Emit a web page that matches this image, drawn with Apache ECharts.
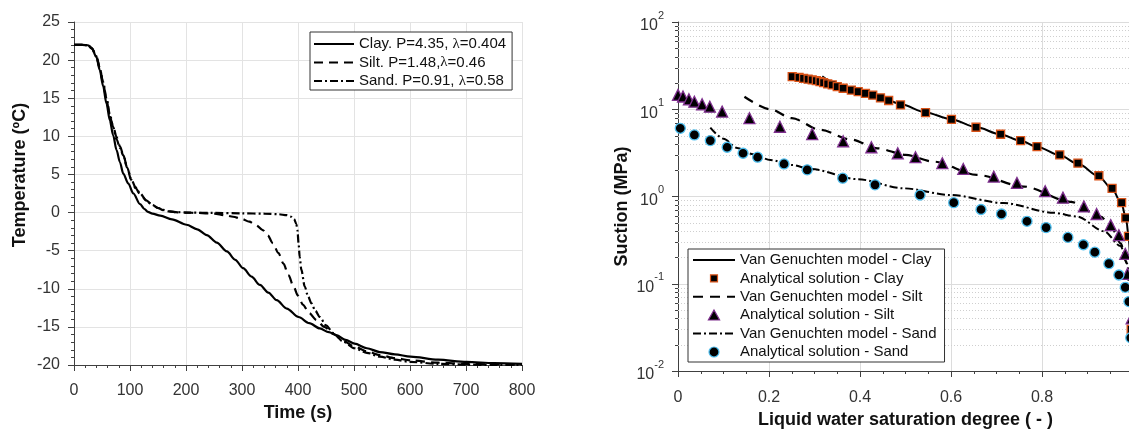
<!DOCTYPE html>
<html><head><meta charset="utf-8">
<script src="https://cdn.jsdelivr.net/npm/echarts@6/dist/echarts.min.js"></script>
<style>html,body{margin:0;padding:0;background:#fff}#c{width:1129px;height:430px}</style>
</head><body><div id="c"></div>
<script>
// ---------- Left panel: temperature vs time ----------
const timeClay = [0, 15, 25, 32, 40, 46, 52, 58, 64, 70, 76, 82, 88, 97, 106, 118, 126, 132, 140, 154, 175, 201, 220, 237, 255, 273, 288, 302, 317, 332, 347, 362, 380, 401, 420, 439, 455, 469, 485, 501, 523, 546, 573, 601, 650, 701, 750, 800];
const tempClay = [22, 22, 21.95, 21.5, 20.4, 18.7, 16.6, 14.3, 12.1, 10.1, 8.2, 6.6, 5.1, 3.8, 2.5, 1.1, 0.45, 0.1, -0.15, -0.4, -0.9, -1.6, -2.2, -2.95, -3.95, -5.1, -6.2, -7.3, -8.4, -9.5, -10.5, -11.5, -12.6, -13.7, -14.5, -15.2, -15.7, -16.1, -16.7, -17.2, -17.8, -18.3, -18.6, -18.9, -19.3, -19.6, -19.75, -19.85];

const timeSilt = [0, 15, 25, 32, 40, 46, 52, 58, 64, 70, 76, 82, 88, 95, 102, 110, 118, 129, 140, 150, 159, 170, 185, 200, 220, 250, 270, 284, 300, 313, 325, 337, 346, 355, 365, 374, 383, 392, 400, 409, 420, 433, 447, 463, 480, 501, 523, 546, 573, 601, 650, 701, 750, 800];
const tempSilt = [22, 22, 21.95, 21.55, 20.5, 19.0, 17.0, 14.8, 12.6, 11.3, 9.9, 8.7, 7.6, 5.9, 4.3, 3.2, 2.4, 1.6, 0.95, 0.6, 0.33, 0.15, 0.03, 0, -0.05, -0.15, -0.35, -0.55, -0.85, -1.2, -1.65, -2.3, -3.0, -4.0, -5.3, -6.7, -8.2, -9.7, -10.9, -12.1, -13.2, -14.1, -15.0, -15.9, -16.8, -17.6, -18.2, -18.7, -19.1, -19.4, -19.7, -19.85, -19.93, -19.97];

const timeSand = [0, 15, 25, 32, 40, 46, 52, 58, 64, 70, 76, 82, 88, 95, 102, 110, 118, 129, 140, 150, 159, 170, 185, 200, 250, 300, 340, 365, 380, 388, 393, 397, 399, 401, 403, 406, 412, 418, 424, 431, 439, 450, 463, 480, 501, 523, 546, 573, 601, 650, 701, 750, 800];
const tempSand = [22, 22, 21.95, 21.55, 20.5, 19.0, 17.1, 15.0, 12.9, 11.2, 9.6, 8.5, 7.5, 5.9, 4.4, 3.3, 2.5, 1.6, 1.0, 0.6, 0.35, 0.15, 0.05, 0, -0.05, -0.1, -0.15, -0.22, -0.35, -0.55, -0.85, -1.5, -2.3, -4.0, -5.8, -7.5, -9.7, -11.0, -11.9, -12.9, -13.7, -14.8, -15.8, -16.9, -17.8, -18.4, -18.9, -19.3, -19.6, -19.85, -19.95, -20, -20];

const leftNames = ['Clay. P=4.35, λ=0.404', 'Silt. P=1.48,λ=0.46', 'Sand. P=0.91, λ=0.58'];

// ---------- Right panel: suction vs saturation ----------
const satClayModel = [0.317, 0.34, 0.36, 0.39, 0.42, 0.45, 0.49, 0.544, 0.6, 0.655, 0.709, 0.753, 0.79, 0.84, 0.88, 0.925, 0.955, 0.975, 0.985, 0.991, 0.995, 0.998, 1.0];
const suctionClayModel = [23.8, 20.5, 18.5, 16.5, 14.9, 13.4, 11.4, 9.2, 7.7, 6.25, 5.15, 4.35, 3.7, 2.95, 2.35, 1.7, 1.2, 0.82, 0.55, 0.32, 0.15, 0.05, 0.01];
const satClayAnalytic = [0.251, 0.266, 0.276, 0.286, 0.295, 0.304, 0.312, 0.320, 0.329, 0.339, 0.350, 0.363, 0.381, 0.396, 0.412, 0.428, 0.445, 0.463, 0.489, 0.544, 0.601, 0.655, 0.709, 0.753, 0.789, 0.839, 0.879, 0.925, 0.954, 0.975, 0.984, 0.990, 0.996];
const suctionClayAnalytic = [23.6, 23.2, 22.6, 22.1, 21.7, 21.3, 20.7, 20.2, 19.5, 19.0, 18.2, 17.4, 16.6, 15.9, 15.2, 14.5, 13.5, 12.6, 11.2, 9.14, 7.67, 6.22, 5.17, 4.37, 3.73, 3.0, 2.41, 1.73, 1.24, 0.85, 0.57, 0.35, 0.03];

const satSiltModel = [0.146, 0.203, 0.25, 0.313, 0.38, 0.438, 0.5, 0.562, 0.657, 0.76, 0.863, 0.929, 0.955, 0.973, 0.985, 0.992, 0.996, 0.999, 1.0];
const suctionSiltModel = [13.9, 10.0, 7.9, 5.8, 4.5, 3.57, 3.0, 2.51, 1.77, 1.30, 0.87, 0.59, 0.42, 0.29, 0.18, 0.1, 0.05, 0.02, 0.01];
const satSiltAnalytic = [0.0, 0.011, 0.024, 0.036, 0.053, 0.070, 0.097, 0.157, 0.224, 0.295, 0.363, 0.425, 0.483, 0.522, 0.581, 0.627, 0.694, 0.745, 0.807, 0.846, 0.892, 0.920, 0.951, 0.969, 0.983, 0.988, 0.997];
const suctionSiltAnalytic = [14.6, 14.0, 13.0, 12.2, 11.4, 10.7, 9.4, 7.9, 6.3, 5.2, 4.3, 3.67, 3.13, 2.82, 2.41, 2.07, 1.69, 1.43, 1.15, 0.97, 0.77, 0.63, 0.47, 0.36, 0.22, 0.13, 0.04];

const satSandModel = [0.071, 0.1, 0.13, 0.165, 0.203, 0.25, 0.291, 0.394, 0.496, 0.599, 0.716, 0.826, 0.877, 0.936, 0.973, 0.987, 0.994, 0.998, 1.0];
const suctionSandModel = [6.15, 4.6, 3.6, 3.05, 2.62, 2.3, 2.07, 1.58, 1.24, 1.04, 0.84, 0.65, 0.59, 0.40, 0.27, 0.17, 0.09, 0.03, 0.01];
const satSandAnalytic = [0.005, 0.036, 0.071, 0.108, 0.143, 0.175, 0.233, 0.284, 0.362, 0.433, 0.532, 0.606, 0.666, 0.711, 0.767, 0.809, 0.857, 0.891, 0.916, 0.947, 0.969, 0.983, 0.991, 0.995];
const suctionSandAnalytic = [6.05, 5.08, 4.37, 3.67, 3.13, 2.82, 2.36, 2.02, 1.62, 1.36, 1.04, 0.85, 0.71, 0.63, 0.52, 0.44, 0.34, 0.28, 0.23, 0.17, 0.126, 0.091, 0.0625, 0.024];

const rightNames = ['Van Genuchten model - Clay', 'Analytical solution - Clay', 'Van Genuchten model - Silt', 'Analytical solution - Silt', 'Van Genuchten model - Sand', 'Analytical solution - Sand'];

// log-axis minor tick values (2..9 x 10^k)
const suctionMinorTicks = [0.02, 0.03, 0.04, 0.05, 0.06, 0.07, 0.08, 0.09, 0.2, 0.3, 0.4, 0.5, 0.6, 0.7, 0.8, 0.9, 2, 3, 4, 5, 6, 7, 8, 9, 20, 30, 40, 50, 60, 70, 80, 90];

// ---------- chart ----------
const pairs = (xs, ys) => xs.map((x, i) => [x, ys[i]]);
const FONT = 'Liberation Sans, Arial, sans-serif';
const AX = '#404040';
const LBL = '#333';
const CLAY_EDGE = '#d95319', SILT_EDGE = '#7e2f8e', SAND_EDGE = '#4dbeee';

// legend marker icons (padded bounding box keeps the marker small)
const ICON_SQUARE = 'path://M0,0M12,12M2.5,2.5L9.5,2.5L9.5,9.5L2.5,9.5Z';
const ICON_TRIANGLE = 'path://M0,0M12,12M6,0.8L11.6,10.8L0.4,10.8Z';
const ICON_CIRCLE = 'path://M0,0M12,12M1,6A5,5,0,1,1,11,6A5,5,0,1,1,1,6Z';

function axisCommon() {
  return {
    axisLine: { show: true, onZero: false, lineStyle: { color: AX, width: 1 } },
    axisTick: { show: true, inside: false, length: 6, lineStyle: { color: AX } },
    minorTick: { show: true, length: 3, lineStyle: { color: AX } },
    axisLabel: { fontSize: 16, color: LBL, fontFamily: FONT },
    nameTextStyle: { fontSize: 18, fontWeight: 'bold', color: '#111', fontFamily: FONT },
    nameLocation: 'middle'
  };
}

const chart = echarts.init(document.getElementById('c'));

const xTime = Object.assign(axisCommon(), {
  gridIndex: 0, type: 'value', min: 0, max: 800, interval: 100,
  name: 'Time (s)', nameGap: 39,
  splitLine: { show: true, lineStyle: { color: '#e3e3e3' } }
});
xTime.minorTick.splitNumber = 5;
xTime.axisLabel.margin = 18;

const yTemp = Object.assign(axisCommon(), {
  gridIndex: 0, type: 'value', min: -20, max: 25, interval: 5,
  name: 'Temperature (ºC)', nameGap: 45,
  splitLine: { show: true, lineStyle: { color: '#e3e3e3' } }
});
yTemp.minorTick.splitNumber = 5;
yTemp.axisLabel.margin = 14;
yTemp.nameTextStyle.padding = [0, 0, 0, 37];

const xSat = Object.assign(axisCommon(), {
  gridIndex: 1, type: 'value', min: 0, max: 1, interval: 0.2,
  name: 'Liquid water saturation degree ( - )', nameGap: 40,
  splitLine: { show: true, lineStyle: { color: '#dcdcdc' } }
});
xSat.minorTick.splitNumber = 4;
xSat.axisLabel.margin = 19;

const ySuc = Object.assign(axisCommon(), {
  gridIndex: 1, type: 'log', logBase: 10, min: 0.01, max: 100, splitNumber: 4,
  name: 'Suction (MPa)', nameGap: 47,
  splitLine: { show: true, lineStyle: { color: '#dcdcdc' } }
});
ySuc.minorTick = { show: false };
ySuc.axisLabel.margin = 14;
ySuc.axisLabel.formatter = v => '{b|10}{s|' + Math.round(Math.log10(v)) + '}';
ySuc.axisLabel.rich = {
  b: { fontSize: 16, color: LBL, fontFamily: FONT, lineHeight: 24, verticalAlign: 'bottom' },
  s: { fontSize: 11, color: LBL, fontFamily: FONT, lineHeight: 11, verticalAlign: 'top' }
};
ySuc.nameTextStyle.padding = [0, 20, 0, 0];

const lineBase = { type: 'line', symbol: 'none', smooth: 0.3, smoothMonotone: 'x', animation: false, z: 3 };

const option = {
  animation: false,
  backgroundColor: '#fff',
  textStyle: { fontFamily: FONT },
  grid: [
    { left: 74, top: 22, width: 448, height: 343, containLabel: false, outerBoundsMode: 'none' },
    { left: 678, top: 22, width: 455, height: 349, containLabel: false, outerBoundsMode: 'none' }
  ],
  xAxis: [xTime, xSat],
  yAxis: [yTemp, ySuc],
  legend: [
    {
      orient: 'vertical', left: 310, top: 32, padding: [4, 6, 1, 3],
      itemWidth: 40, itemHeight: 14, itemGap: 2.5,
      backgroundColor: '#fff', borderColor: '#333', borderWidth: 1,
      textStyle: { fontSize: 15, color: '#111', fontFamily: FONT, lineHeight: 16,
        rich: { g: { fontSize: 15, color: '#111', fontFamily: 'Liberation Serif, serif', lineHeight: 16 } } },
      formatter: n => n.replace('λ', '{g|λ}'),
      selectedMode: false,
      data: leftNames.map(n => ({ name: n, itemStyle: { opacity: 0 } }))
    },
    {
      orient: 'vertical', left: 688, top: 249, padding: [3, 8, 2, 4],
      itemWidth: 42, itemHeight: 12, itemGap: 2.4,
      symbolKeepAspect: true,
      backgroundColor: '#fff', borderColor: '#333', borderWidth: 1,
      textStyle: { fontSize: 15, color: '#111', fontFamily: FONT, lineHeight: 16 },
      selectedMode: false,
      data: [
        { name: rightNames[0], itemStyle: { opacity: 0 } },
        { name: rightNames[1], icon: ICON_SQUARE, itemStyle: { color: '#000', borderColor: CLAY_EDGE, borderWidth: 1.2, opacity: 1 } },
        { name: rightNames[2], itemStyle: { opacity: 0 } },
        { name: rightNames[3], icon: ICON_TRIANGLE, itemStyle: { color: '#000', borderColor: SILT_EDGE, borderWidth: 1.2, opacity: 1 } },
        { name: rightNames[4], itemStyle: { opacity: 0 } },
        { name: rightNames[5], icon: ICON_CIRCLE, itemStyle: { color: '#000', borderColor: SAND_EDGE, borderWidth: 1.2, opacity: 1 } }
      ]
    }
  ],
  series: [
    {
      type: 'custom', name: 'minorLogGrid', xAxisIndex: 1, yAxisIndex: 1, silent: true, clip: false, z: 1,
      data: suctionMinorTicks.map(v => [0, v]),
      encode: { x: 0, y: 1 },
      renderItem: function (params, api) {
        const cs = params.coordSys;
        const y = Math.round(api.coord([0, api.value(1)])[1]) + 0.5;
        return {
          type: 'group', children: [
            { type: 'line', shape: { x1: cs.x, y1: y, x2: cs.x + cs.width, y2: y }, style: { stroke: '#cfcfcf', lineWidth: 1, lineDash: [1, 2] } },
            { type: 'line', shape: { x1: cs.x - 3, y1: y, x2: cs.x, y2: y }, style: { stroke: AX, lineWidth: 1 } }
          ]
        };
      }
    },
    Object.assign({}, lineBase, { name: leftNames[0], xAxisIndex: 0, yAxisIndex: 0, data: pairs(timeClay, tempClay),
      lineStyle: { color: '#000', width: 2.2, type: 'solid' }, itemStyle: { color: '#000' } }),
    Object.assign({}, lineBase, { name: leftNames[1], xAxisIndex: 0, yAxisIndex: 0, data: pairs(timeSilt, tempSilt),
      lineStyle: { color: '#000', width: 2.2, type: [9, 6] }, itemStyle: { color: '#000' } }),
    Object.assign({}, lineBase, { name: leftNames[2], xAxisIndex: 0, yAxisIndex: 0, data: pairs(timeSand, tempSand),
      lineStyle: { color: '#000', width: 2.2, type: [8, 3, 2, 3] }, itemStyle: { color: '#000' } }),

    Object.assign({}, lineBase, { name: rightNames[0], xAxisIndex: 1, yAxisIndex: 1, data: pairs(satClayModel, suctionClayModel),
      lineStyle: { color: '#000', width: 2, type: 'solid' }, itemStyle: { color: '#000' } }),
    { type: 'scatter', name: rightNames[1], xAxisIndex: 1, yAxisIndex: 1, data: pairs(satClayAnalytic, suctionClayAnalytic),
      symbol: 'rect', symbolSize: 8, itemStyle: { color: '#000', borderColor: CLAY_EDGE, borderWidth: 1.3, opacity: 1 }, z: 4 },
    Object.assign({}, lineBase, { name: rightNames[2], xAxisIndex: 1, yAxisIndex: 1, data: pairs(satSiltModel, suctionSiltModel),
      lineStyle: { color: '#000', width: 2.2, type: [10, 7] }, itemStyle: { color: '#000' } }),
    { type: 'scatter', name: rightNames[3], xAxisIndex: 1, yAxisIndex: 1, data: pairs(satSiltAnalytic, suctionSiltAnalytic),
      symbol: 'triangle', symbolSize: 11, itemStyle: { color: '#000', borderColor: SILT_EDGE, borderWidth: 1.3, opacity: 1 }, z: 4 },
    Object.assign({}, lineBase, { name: rightNames[4], xAxisIndex: 1, yAxisIndex: 1, data: pairs(satSandModel, suctionSandModel),
      lineStyle: { color: '#000', width: 2, type: [8, 3, 2, 3] }, itemStyle: { color: '#000' } }),
    { type: 'scatter', name: rightNames[5], xAxisIndex: 1, yAxisIndex: 1, data: pairs(satSandAnalytic, suctionSandAnalytic),
      symbol: 'circle', symbolSize: 10, itemStyle: { color: '#000', borderColor: SAND_EDGE, borderWidth: 1.3, opacity: 1 }, z: 4 }
  ]
};
chart.setOption(option);
</script></body></html>
